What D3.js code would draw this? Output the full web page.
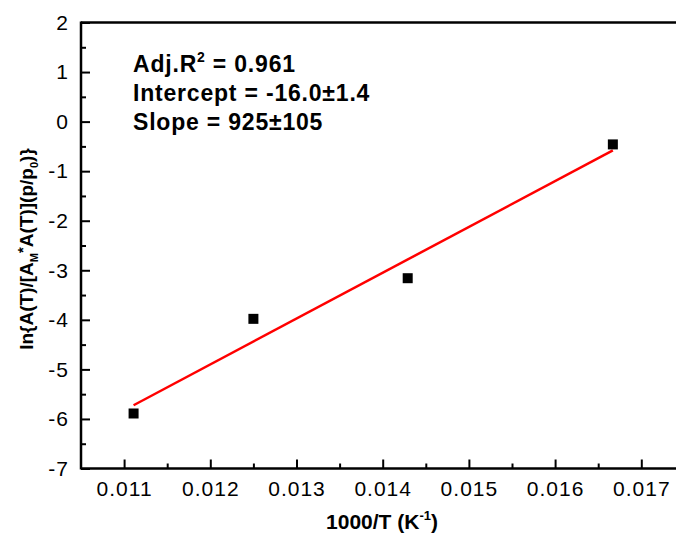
<!DOCTYPE html>
<html><head><meta charset="utf-8">
<script src="https://cdn.jsdelivr.net/npm/d3@7"></script>
<style>
body{margin:0;background:#fff;}
text{font-family:"Liberation Sans",Arial,sans-serif;}
</style></head>
<body><svg id="c" width="676" height="544"></svg>
<script>
// data
const invT = [0.01111, 0.01250, 0.01429, 0.01667];
const lnRatio = [-5.89, -3.98, -3.16, -0.46];
const fitIntercept = -16.0;
const fitSlope = 925;
const xTicks = [0.011, 0.012, 0.013, 0.014, 0.015, 0.016, 0.017];
const yTicks = [2, 1, 0, -1, -2, -3, -4, -5, -6, -7];

const svg = d3.select("#c");
const x = d3.scaleLinear().domain([0.0105, 0.0175]).range([81, 81 + 7 * 86.2]);
const y = d3.scaleLinear().domain([-7, 2]).range([468.5, 22.5]);

const xMinor = d3.range(0.0115, 0.0175, 0.001);
const yMinor = d3.range(-6.5, 2, 1);

const FONT = "Liberation Sans, Arial, sans-serif";

// minor ticks
svg.append("g").attr("transform", `translate(0,${y(-7)})`)
  .call(d3.axisBottom(x).tickValues(xMinor).tickSize(-5).tickFormat(""))
  .call(g => g.select(".domain").remove())
  .call(g => g.selectAll("line").attr("stroke-width", 2));
svg.append("g").attr("transform", `translate(${x(0.0105)},0)`)
  .call(d3.axisLeft(y).tickValues(yMinor).tickSize(-5).tickFormat(""))
  .call(g => g.select(".domain").remove())
  .call(g => g.selectAll("line").attr("stroke-width", 2));

// major x axis
svg.append("g").attr("transform", `translate(0,${y(-7)})`)
  .call(d3.axisBottom(x).tickValues(xTicks).tickSize(-9).tickPadding(13).tickFormat(d3.format(".3f")))
  .call(g => g.select(".domain").remove())
  .call(g => g.selectAll("line").attr("stroke-width", 2))
  .call(g => g.selectAll("text").attr("font-size", 21).attr("letter-spacing", 1).attr("fill", "#000").attr("font-family", FONT));

// major y axis
svg.append("g").attr("transform", `translate(${x(0.0105)},0)`)
  .call(d3.axisLeft(y).tickValues(yTicks).tickSize(-9).tickPadding(12).tickFormat(d => String(d)))
  .call(g => g.select(".domain").remove())
  .call(g => g.selectAll("line").attr("stroke-width", 2))
  .call(g => g.selectAll("text").attr("font-size", 21).attr("letter-spacing", 1).attr("fill", "#000").attr("font-family", FONT));

// frame lines (left, bottom, top)
const x0 = x(0.0105), x1 = x(0.0175);
svg.append("line").attr("x1", x0).attr("x2", x0).attr("y1", y(2) - 1).attr("y2", y(-7) + 1).attr("stroke", "#000").attr("stroke-width", 2.5);
svg.append("line").attr("x1", x0).attr("x2", x1).attr("y1", y(-7)).attr("y2", y(-7)).attr("stroke", "#000").attr("stroke-width", 2.5);
svg.append("line").attr("x1", x0).attr("x2", x1).attr("y1", y(2)).attr("y2", y(2)).attr("stroke", "#000").attr("stroke-width", 2.5);

// fit line
const xFit = [invT[0], invT[invT.length - 1]];
svg.append("line")
  .attr("x1", x(xFit[0])).attr("y1", y(fitIntercept + fitSlope * xFit[0]))
  .attr("x2", x(xFit[1])).attr("y2", y(fitIntercept + fitSlope * xFit[1]))
  .attr("stroke", "#ff0000").attr("stroke-width", 2.5);

// points
const pts = invT.map((v, i) => [v, lnRatio[i]]);
svg.append("g").selectAll("rect").data(pts).join("rect")
  .attr("x", d => x(d[0]) - 5).attr("y", d => y(d[1]) - 5)
  .attr("width", 10).attr("height", 10).attr("fill", "#000");

// annotation
const ann = svg.append("g").attr("font-weight", "bold").attr("font-size", 23).attr("letter-spacing", 0.8).attr("fill", "#000");
const t1 = ann.append("text").attr("x", 133).attr("y", 72);
t1.append("tspan").text("Adj.R");
t1.append("tspan").attr("font-size", 14).attr("dy", -10).text("2");
t1.append("tspan").attr("dy", 10).text(" = 0.961");
ann.append("text").attr("x", 133).attr("y", 101).text("Intercept = -16.0\u00b11.4");
ann.append("text").attr("x", 133).attr("y", 130).text("Slope = 925\u00b1105");

// x title
const xt = svg.append("text").attr("x", 382).attr("y", 529).attr("text-anchor", "middle")
  .attr("font-weight", "bold").attr("font-size", 21);
xt.append("tspan").text("1000/T (K");
xt.append("tspan").attr("font-size", 13).attr("dy", -9).text("-1");
xt.append("tspan").attr("dy", 9).text(")");

// y title
const yt = svg.append("text").attr("transform", "translate(33,249) rotate(-90)").attr("text-anchor", "middle")
  .attr("font-weight", "bold").attr("font-size", 19);
yt.append("tspan").text("ln{A(T)/[A");
yt.append("tspan").attr("font-size", 11).attr("dy", 5).text("M");
yt.append("tspan").attr("font-size", 15).attr("dy", -10).text("*");
yt.append("tspan").attr("dy", 5).text("A(T)](p/p");
yt.append("tspan").attr("font-size", 11).attr("dy", 5).text("0");
yt.append("tspan").attr("dy", -5).text(")}");
</script></body></html>
